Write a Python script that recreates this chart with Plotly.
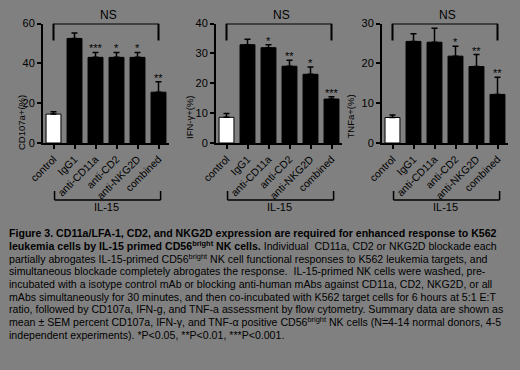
import plotly.graph_objects as go

W, H = 520, 370

categories = ["control", "IgG1", "anti-CD11a", "anti-CD2", "anti-NKG2D", "combined"]

cd107a = [14.5, 52.5, 43.0, 43.0, 43.0, 25.5]
cd107a_err = [1.2, 2.7, 2.5, 2.5, 2.5, 5.3]
cd107a_sig = ["", "", "***", "*", "*", "**"]

ifng = [8.6, 32.9, 31.9, 25.7, 23.0, 14.7]
ifng_err = [1.3, 1.8, 1.0, 2.0, 2.4, 0.8]
ifng_sig = ["", "", "*", "**", "*", "***"]

tnfa = [6.4, 25.5, 25.3, 21.8, 19.2, 12.2]
tnfa_err = [0.6, 1.9, 3.5, 2.5, 3.0, 4.3]
tnfa_sig = ["", "", "", "*", "**", "**"]

y_titles = ["CD107a+(%)", "IFN-γ+(%)", "TNFa+(%)"]
y_max = [60, 40, 30]
y_dtick = [20, 10, 10]

caption = [
    "<b>Figure 3. CD11a/LFA-1, CD2, and NKG2D expression are required for enhanced response to K562</b>",
    "<b>leukemia cells by IL-15 primed CD56<sup>bright</sup> NK cells.</b> Individual  CD11a, CD2 or NKG2D blockade each",
    "partially abrogates IL-15-primed CD56<sup>bright</sup> NK cell functional responses to K562 leukemia targets, and",
    "simultaneous blockade completely abrogates the response.  IL-15-primed NK cells were washed, pre-",
    "incubated with a isotype control mAb or blocking anti-human mAbs against CD11a, CD2, NKG2D, or all",
    "mAbs simultaneously for 30 minutes, and then co-incubated with K562 target cells for 6 hours at 5:1 E:T",
    "ratio, followed by CD107a, IFN-g, and TNF-a assessment by flow cytometry. Summary data are shown as",
    "mean ± SEM percent CD107a, IFN-γ, and TNF-α positive CD56<sup>bright</sup> NK cells (N=4-14 normal donors, 4-5",
    "independent experiments). *P<0.05, **P<0.01, ***P<0.001.",
]

BG = "#808080"
FONT = "Liberation Sans, Arial, sans-serif"


def px(x):
    return x / W


def py(y):
    return 1 - y / H


series = [(cd107a, cd107a_err, cd107a_sig), (ifng, ifng_err, ifng_sig), (tnfa, tnfa_err, tnfa_sig)]
x_left = [43, 216, 382]
title_x = [14, 189, 357]
panel_w = 126
y_top_px, y_bot_px = 23.5, 143

fig = go.Figure()
layout = dict(
    width=W, height=H, margin=dict(l=0, r=0, t=0, b=0, autoexpand=False),
    paper_bgcolor=BG, plot_bgcolor=BG, showlegend=False,
    font=dict(family=FONT, color="black"),
    bargap=0.29,
)
shapes, annotations = [], []

for i, (vals, errs, sig) in enumerate(series):
    n = "" if i == 0 else str(i + 1)
    fig.add_trace(go.Bar(
        x=categories, y=vals, xaxis="x" + n, yaxis="y" + n,
        marker=dict(color=["white"] + ["black"] * 5, line=dict(color="black", width=1)),
        error_y=dict(type="data", array=errs, arrayminus=[0] * 6, symmetric=False,
                     color="black", thickness=1.5, width=3),
    ))
    layout["xaxis" + n] = dict(
        domain=[px(x_left[i]), px(x_left[i] + panel_w)], anchor="y" + n,
        range=[-0.5, 5.5], showline=True, linecolor="black", linewidth=2,
        ticks="outside", ticklen=4, tickwidth=1.5, tickcolor="black",
        tickangle=-45, tickfont=dict(size=10.5, family=FONT, color="black"),
        showgrid=False, zeroline=False, fixedrange=True, automargin=False,
    )
    layout["yaxis" + n] = dict(
        domain=[py(y_bot_px), py(y_top_px)], anchor="x" + n,
        range=[0, y_max[i]], dtick=y_dtick[i], showline=True, linecolor="black", linewidth=2,
        ticks="outside", ticklen=4, tickwidth=1.5, tickcolor="black",
        tickfont=dict(size=11, family=FONT, color="black"),
        showgrid=False, zeroline=False, fixedrange=True, automargin=False,
    )
    xr, yr = "x" + n, "y" + n
    top = y_max[i]
    drop = top * 17 / (y_bot_px - y_top_px)
    for (a, b, c, d) in [(0, top, 5, top), (0, top, 0, top - drop), (5, top, 5, top - drop)]:
        shapes.append(dict(type="line", xref=xr, yref=yr, x0=a, y0=b, x1=c, y1=d,
                           line=dict(color="black", width=2)))
    annotations.append(dict(text="NS", xref=xr, yref=yr, x=2.6, y=top, yanchor="bottom",
                            showarrow=False, font=dict(size=12, family=FONT, color="black")))
    for (a, b, c, d) in [(0.05, 200, 5.1, 200), (0.05, 200, 0.05, 191), (5.1, 200, 5.1, 191)]:
        shapes.append(dict(type="line", xref=xr, yref="paper", x0=a, y0=py(b), x1=c, y1=py(d),
                           line=dict(color="black", width=1.5)))
    annotations.append(dict(text="IL-15", xref=xr, yref="paper", x=2.5, y=py(199), yanchor="top",
                            showarrow=False, font=dict(size=11, family=FONT, color="black")))
    for j in range(6):
        if sig[j]:
            annotations.append(dict(text=sig[j], xref=xr, yref=yr, x=j, y=vals[j] + errs[j],
                                    yanchor="bottom", yshift=-4, showarrow=False,
                                    font=dict(size=11, family=FONT, color="black")))
    annotations.append(dict(text=y_titles[i], xref="paper", yref="paper", x=px(title_x[i]),
                            y=py(93), textangle=-90, showarrow=False,
                            font=dict(size=9.5, family=FONT, color="black")))

for k, line in enumerate(caption):
    annotations.append(dict(text=line, xref="paper", yref="paper", x=px(7), y=py(233 + 12.7 * k),
                            xanchor="left", yanchor="middle", showarrow=False,
                            font=dict(size=10.6, family=FONT, color="black")))

layout["shapes"] = shapes
layout["annotations"] = annotations
fig.update_layout(**layout)
fig.write_html(
    "out.html",
    config={"displayModeBar": False},
    post_script="document.body.style.margin='0';document.body.style.overflow='hidden';",
)
